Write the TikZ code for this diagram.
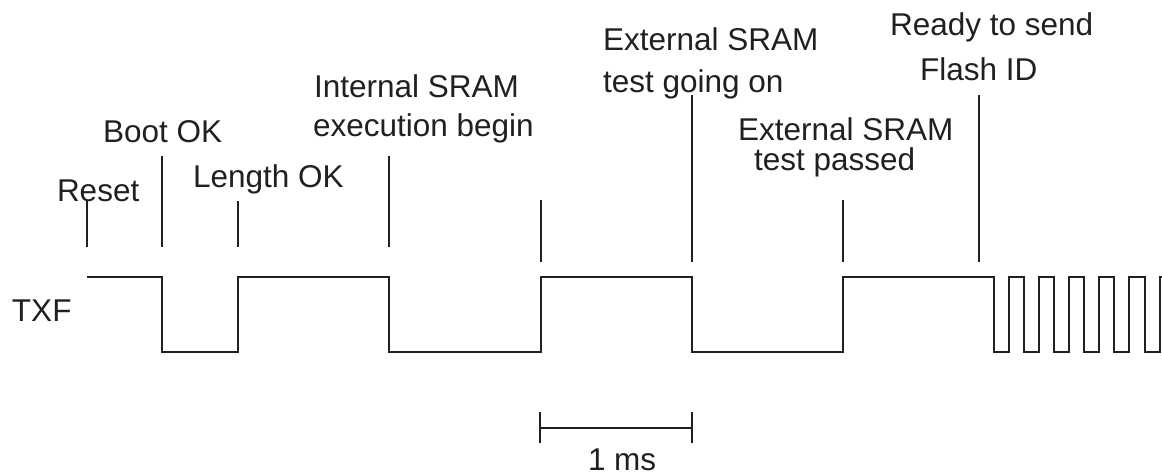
\documentclass[tikz,border=0pt]{standalone}
\usepackage{fontspec}
\setmainfont{Liberation Sans}
\definecolor{ink}{HTML}{231F20}
\begin{document}
\begin{tikzpicture}[x=1pt,y=-1pt,
  lbl/.style={anchor=base west,inner sep=0pt,outer sep=0pt,text=ink,font=\fontsize{31.5}{36}\selectfont},
  wave/.style={draw=ink,line width=2pt,line join=miter},
  marker/.style={draw=ink,line width=2pt}]
\useasboundingbox (0,0) rectangle (1162,475);
% labels
\node[lbl] (reset) at (57,201.5) {Reset};
\node[lbl] (boot) at (103,142) {Boot OK};
\node[lbl] (len) at (193,187) {Length OK};
\node[lbl] (int1) at (314,97.5) {Internal SRAM};
\node[lbl] (int2) at (313,136) {execution begin};
\node[lbl] (ext1) at (603,50.5) {External SRAM};
\node[lbl] (ext2) at (603,92) {test going on};
\node[lbl] (pas1) at (738,140) {External SRAM};
\node[lbl] (pas2) at (754,170) {test passed};
\node[lbl] (rdy1) at (890,35) {Ready to send};
\node[lbl] (rdy2) at (920,80) {Flash ID};
\node[lbl] (txf) at (12,321.5) {TXF};
\node[lbl] (ms) at (588,470.5) {1 ms};
% marker coordinates
\foreach \n/\x/\t/\b in {a/87/200/247, b/162/156/247, c/238/201/247, d/389/156/247,
                         e/541/200/262, f/692/95/262, g/843/200/262, h/979/95/262}{
  \coordinate (\n t) at (\x,\t);
  \coordinate (\n b) at (\x,\b);
}
\foreach \n in {a,b,c,d,e,f,g,h}{\draw[marker] (\n t) -- (\n b);}
% waveform
\def\H{276.5}\def\L{352}
\draw[wave] (87,\H) -- (162,\H) -- (162,\L) -- (238,\L) -- (238,\H) -- (389,\H)
  -- (389,\L) -- (541,\L) -- (541,\H) -- (692,\H) -- (692,\L) -- (843,\L)
  -- (843,\H) -- (994,\H) -- (994,\L)
  -- (1008.5,\L) -- (1008.5,\H) -- (1023.5,\H) -- (1023.5,\L)
  -- (1038.5,\L) -- (1038.5,\H) -- (1053.5,\H) -- (1053.5,\L)
  -- (1068.5,\L) -- (1068.5,\H) -- (1084,\H) -- (1084,\L)
  -- (1098.5,\L) -- (1098.5,\H) -- (1114,\H) -- (1114,\L)
  -- (1129,\L) -- (1129,\H) -- (1145,\H) -- (1145,\L)
  -- (1160,\L) -- (1160,\H) -- (1162,\H);
% scale bar
\coordinate (s1) at (540,427.5);
\coordinate (s2) at (692,427.5);
\draw[marker] (s1) -- (s2);
\draw[marker] ([yshift=-15.5pt]s1) -- ([yshift=15.5pt]s1);
\draw[marker] ([yshift=-15.5pt]s2) -- ([yshift=15.5pt]s2);
\end{tikzpicture}
\end{document}
